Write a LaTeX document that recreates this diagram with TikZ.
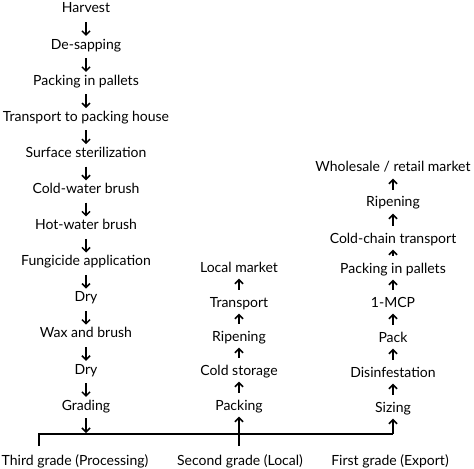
\documentclass[tikz,border=0pt]{standalone}
\usepackage{fontspec}
\setmainfont{Lato}
\usetikzlibrary{arrows.meta}
\begin{document}
\begin{tikzpicture}[x=1bp,y=-1bp,
  lbl/.style={anchor=base,inner sep=0pt,text height=10bp,text depth=3bp,font=\fontsize{14bp}{16bp}\selectfont},
  tip/.style={line width=1.5bp,-{Straight Barb[length=4bp,width=8bp,line width=1.5bp]}},
  dn/.style={tip,shorten <=6bp,shorten >=3bp},
  up/.style={tip,shorten <=7bp,shorten >=3.5bp},
  bar/.style={line width=1.4bp}]
\useasboundingbox (0,0) rectangle (474,469);
% left column
\foreach \t [count=\i from 0] in {Harvest,De-sapping,Packing in pallets,Transport to packing house,Surface sterilization,Cold-water brush,Hot-water brush,Fungicide application,Dry,Wax and brush,Dry,Grading}
  \node[lbl] (L\i) at (86,{13+36.1*\i}) {\t};
\foreach \i [evaluate=\i as \j using int(\i+1)] in {0,...,10}
  \draw[dn] (L\i.south) -- (L\j.north);
% middle column
\foreach \t/\y [count=\i from 0] in {Packing/410,Cold storage/375,Ripening/341,Transport/307,Local market/272}
  \node[lbl] (M\i) at (239,\y) {\t};
\foreach \i [evaluate=\i as \j using int(\i+1)] in {0,...,3}
  \draw[up] (M\i.north) -- (M\j.south);
% right column
\foreach \t/\y [count=\i from 0] in {Sizing/412,Disinfestation/377,Pack/342,1-MCP/307,Packing in pallets/273,Cold-chain transport/243,Ripening/207}
  \node[lbl] (R\i) at (393,\y) {\t};
\node[lbl] (R7) at (393,172) {Wholesale / retail market};
\foreach \i [evaluate=\i as \j using int(\i+1)] in {0,...,6}
  \draw[up] (R\i.north) -- (R\j.south);
% bar
\coordinate (bl) at (39,434);
\coordinate (blt) at (39,446);
\coordinate (bm) at (239,434);
\coordinate (bmt) at (239,446);
\coordinate (br) at (393,434);
\draw[bar] (blt) -- (bl) -- (br);
\draw[tip,shorten <=5bp,shorten >=1bp] (L11.south) -- (86,434);
\draw[tip,shorten >=3.5bp] (bmt) -- (M0.south);
\draw[tip,shorten >=3.5bp] (br) -- (R0.south);
% bottom labels
\node[lbl] (G3) at (75,465) {Third grade (Processing)};
\node[lbl] (G2) at (240,465) {Second grade (Local)};
\node[lbl] (G1) at (390,465) {First grade (Export)};
\end{tikzpicture}
\end{document}
